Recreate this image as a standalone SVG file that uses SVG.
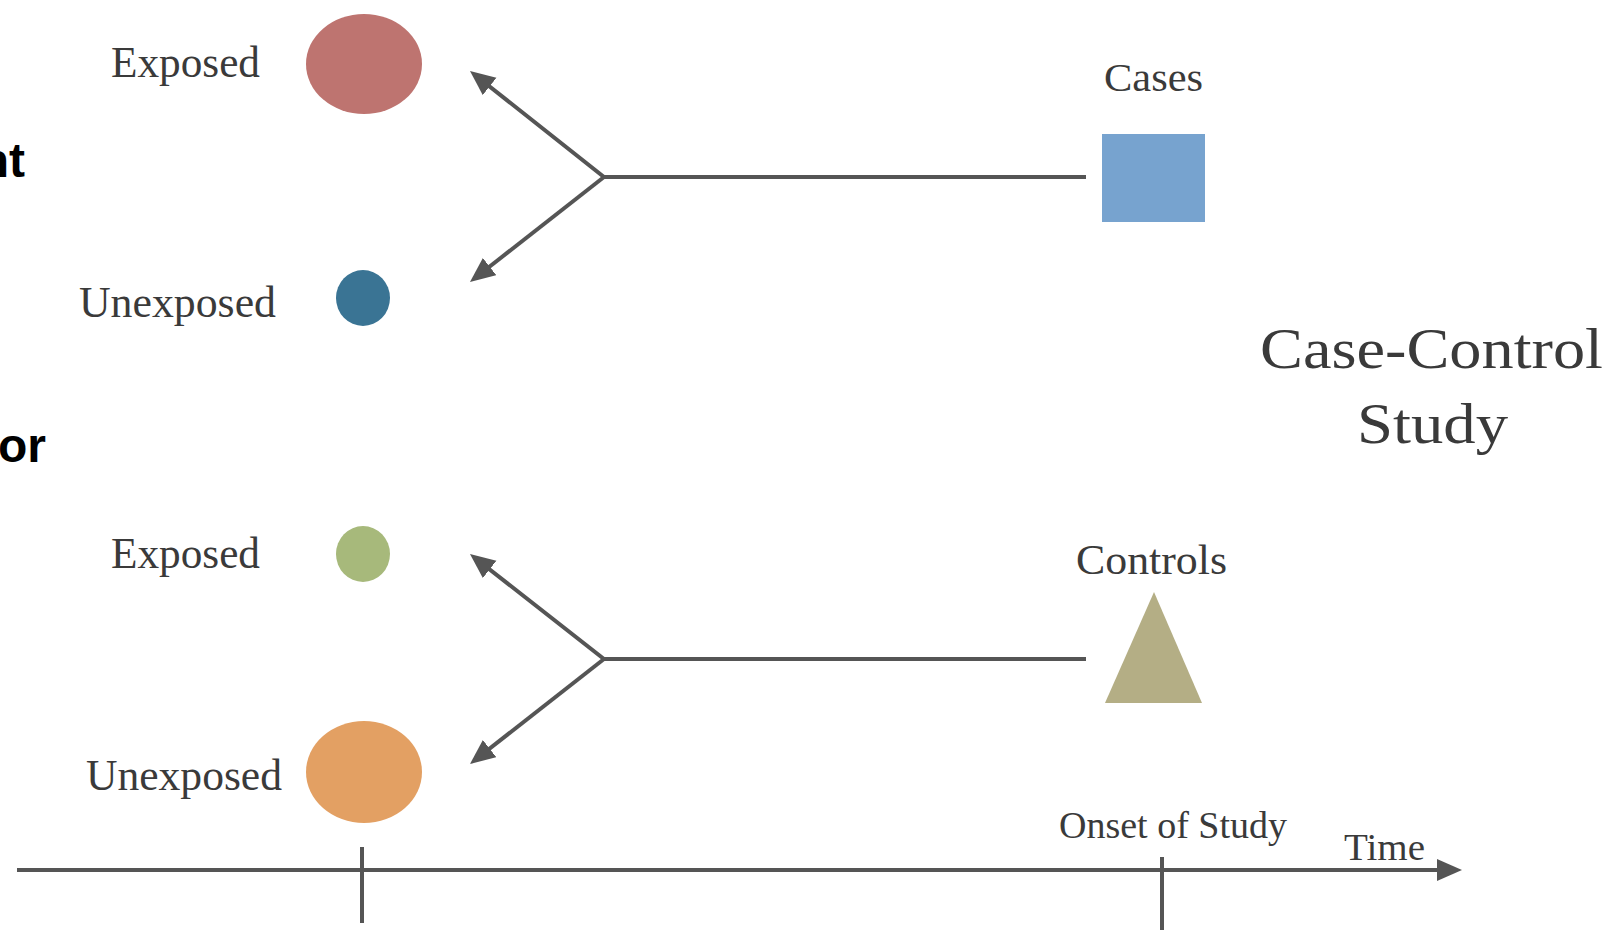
<svg xmlns="http://www.w3.org/2000/svg" width="1614" height="937" viewBox="0 0 1614 937">
<defs>
<style>
.lbl{font-family:"Liberation Serif","Times New Roman",serif;fill:#3a3a3a}
.side{font-family:"Liberation Sans",Arial,sans-serif;font-weight:bold;fill:#000;font-size:48px}
.ln{fill:none;stroke:#555;stroke-width:4;stroke-linejoin:miter}
</style>
<marker id="ah" markerUnits="userSpaceOnUse" markerWidth="26" markerHeight="24" refX="19" refY="11" orient="auto">
<path d="M0,0 L25,11 L0,22 z" fill="#555"/>
</marker>
</defs>
<rect width="1614" height="937" fill="#fff"/>
<text class="side" x="25" y="177" text-anchor="end">nt</text>
<text class="side" x="46" y="462" text-anchor="end">or</text>
<g id="connectors">
<path class="ln" d="M1086,177 L604,177 L474.7,74.7" marker-end="url(#ah)"/>
<path class="ln" d="M604,177 L474.7,278.3" marker-end="url(#ah)"/>
<path class="ln" d="M1086,659 L604,659 L474.7,557.7" marker-end="url(#ah)"/>
<path class="ln" d="M604,659 L474.7,760.3" marker-end="url(#ah)"/>
<path class="ln" d="M17,870 L1456,870" marker-end="url(#ah)"/>
<path class="ln" d="M362,847 L362,923"/>
<path class="ln" d="M1162,857 L1162,930"/>
</g>
<g id="exposed-cases">
<ellipse cx="364" cy="64" rx="58" ry="50" fill="#BE7470"/>
<text class="lbl" x="111" y="77" font-size="44" textLength="149" lengthAdjust="spacingAndGlyphs">Exposed</text>
</g>
<g id="unexposed-cases">
<ellipse cx="363" cy="298" rx="27" ry="28" fill="#3A7494"/>
<text class="lbl" x="79" y="317" font-size="44" textLength="197" lengthAdjust="spacingAndGlyphs">Unexposed</text>
</g>
<g id="exposed-controls">
<ellipse cx="363" cy="554" rx="27" ry="28" fill="#A7B97B"/>
<text class="lbl" x="111" y="568" font-size="44" textLength="149" lengthAdjust="spacingAndGlyphs">Exposed</text>
</g>
<g id="unexposed-controls">
<ellipse cx="364" cy="772" rx="58" ry="51" fill="#E3A063"/>
<text class="lbl" x="86" y="790" font-size="44" textLength="196" lengthAdjust="spacingAndGlyphs">Unexposed</text>
</g>
<g id="cases">
<rect x="1102" y="134" width="103" height="88" fill="#77A3CF"/>
<text class="lbl" x="1104" y="91" font-size="41" textLength="99" lengthAdjust="spacingAndGlyphs">Cases</text>
</g>
<g id="controls">
<polygon points="1154,592 1105,703 1202,703" fill="#B4AE85"/>
<text class="lbl" x="1076" y="574" font-size="43" textLength="151" lengthAdjust="spacingAndGlyphs">Controls</text>
</g>
<g id="title">
<text class="lbl" x="1260" y="368" font-size="57" textLength="343" lengthAdjust="spacingAndGlyphs">Case-Control</text>
<text class="lbl" x="1357" y="443" font-size="57" textLength="151" lengthAdjust="spacingAndGlyphs">Study</text>
</g>
<g id="axis-labels">
<text class="lbl" x="1059" y="838" font-size="37" textLength="228" lengthAdjust="spacingAndGlyphs">Onset of Study</text>
<text class="lbl" x="1344" y="860" font-size="37" textLength="81" lengthAdjust="spacingAndGlyphs">Time</text>
</g>
</svg>
